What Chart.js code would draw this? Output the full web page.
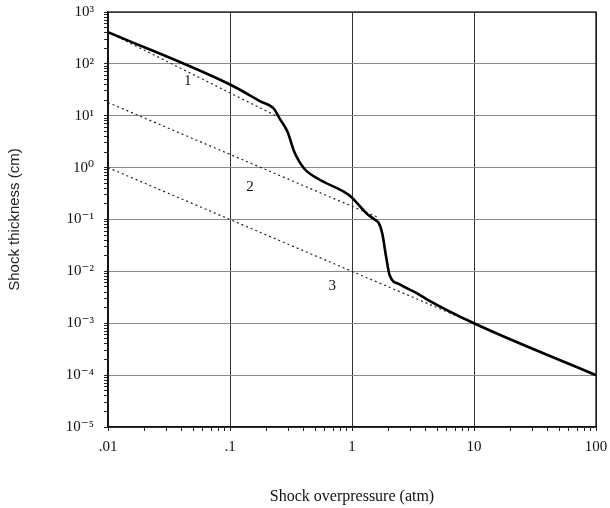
<!DOCTYPE html>
<html>
<head>
<meta charset="utf-8">
<script src="https://cdn.jsdelivr.net/npm/chart.js@4.4.0/dist/chart.umd.min.js"></script>
<style>
  html, body { margin: 0; padding: 0; background: #fff; }
  #wrap { width: 610px; height: 508px; }
</style>
</head>
<body>
<div id="wrap"><canvas id="c" width="610" height="508"></canvas></div>
<script>
// ---- data ----
const mainX = [0.01, 0.1, 0.177, 0.23, 0.254, 0.296, 0.337, 0.407, 0.54, 0.955, 1.32, 1.53, 1.66, 1.77, 1.9, 2.04, 2.46, 3.39, 4.1, 10, 100];
const mainY = [410, 40, 19, 13.5, 9, 4.9, 2.0, 0.95, 0.59, 0.29, 0.13, 0.1, 0.085, 0.054, 0.0195, 0.0083, 0.0056, 0.0038, 0.0029, 0.001, 0.0001];

const line1X = [0.01, 0.26];
const line1Y = [410, 9];
const line2X = [0.01, 1.65];
const line2Y = [18, 0.109];
const line3X = [0.01, 10];
const line3Y = [1, 0.001];

const curveNames = ['1', '2', '3'];
const curveNameX = [0.045, 0.146, 0.69];
const curveNameY = [47, 0.43, 0.0051];

const xTickLabels = {0.01: '.01', 0.1: '.1', 1: '1', 10: '10', 100: '100'};
const supDigits = {'-': '\u207B', '0': '\u2070', '1': '\u00B9', '2': '\u00B2', '3': '\u00B3', '4': '\u2074', '5': '\u2075', '6': '\u2076', '7': '\u2077', '8': '\u2078', '9': '\u2079'};

const xTitle = 'Shock overpressure (atm)';
const yTitle = 'Shock thickness (cm)';

// ---- helpers ----
const pts = (xs, ys) => xs.map((x, i) => ({x: x, y: ys[i]}));
const isMajor = v => Math.abs(Math.log10(v) - Math.round(Math.log10(v))) < 1e-9;
const logTicks = (lo, hi) => {
  const t = [];
  for (let e = lo; e <= hi; e++) {
    for (let m = 1; m <= 9; m++) {
      const v = m * Math.pow(10, e);
      if (e === hi && m > 1) break;
      t.push({value: parseFloat(v.toPrecision(6))});
    }
  }
  return t;
};
const serif = "'Liberation Serif', 'DejaVu Serif', serif";
const sans = "'Liberation Sans', Arial, sans-serif";

const framePlugin = {
  id: 'frame',
  afterDraw(chart) {
    const a = chart.chartArea, ctx = chart.ctx;
    ctx.save();
    ctx.strokeStyle = '#111';
    ctx.lineWidth = 1.3;
    ctx.strokeRect(a.left, a.top, a.right - a.left, a.bottom - a.top);
    ctx.restore();
  }
};

const curveLabelPlugin = {
  id: 'curveLabels',
  afterDatasetsDraw(chart) {
    const ctx = chart.ctx, sx = chart.scales.x, sy = chart.scales.y;
    ctx.save();
    ctx.fillStyle = '#111';
    ctx.font = "15px " + serif;
    ctx.textAlign = 'center';
    ctx.textBaseline = 'middle';
    curveNames.forEach((n, i) => {
      ctx.fillText(n, sx.getPixelForValue(curveNameX[i]), sy.getPixelForValue(curveNameY[i]));
    });
    ctx.restore();
  }
};

const dotted = (data) => ({
  data: data,
  borderColor: '#222',
  borderWidth: 1.2,
  borderDash: [2, 3],
  pointRadius: 0,
  fill: false,
  tension: 0
});

new Chart(document.getElementById('c'), {
  type: 'line',
  data: {
    datasets: [
      {
        data: pts(mainX, mainY),
        borderColor: '#000',
        borderWidth: 2.6,
        pointRadius: 0,
        fill: false,
        cubicInterpolationMode: 'monotone'
      },
      dotted(pts(line1X, line1Y)),
      dotted(pts(line2X, line2Y)),
      dotted(pts(line3X, line3Y))
    ]
  },
  options: {
    responsive: false,
    animation: false,
    layout: {padding: {left: 0, top: 12, right: 14, bottom: 0}},
    plugins: {legend: {display: false}, tooltip: {enabled: false}},
    scales: {
      x: {
        type: 'logarithmic',
        min: 0.01, max: 100,
        afterBuildTicks: s => { s.ticks = logTicks(-2, 2); },
        afterFit: s => { s.height = 81; s.paddingLeft = 0; s.paddingRight = 0; },
        border: {display: true, color: '#111', width: 1.3},
        grid: {
          color: c => (c.tick && isMajor(c.tick.value)) ? '#333' : 'rgba(0,0,0,0)',
          lineWidth: 1,
          tickColor: '#222',
          tickLength: 4,
          drawOnChartArea: true
        },
        ticks: {
          autoSkip: false, maxRotation: 0, padding: 7,
          color: '#111',
          font: {family: serif, size: 15},
          callback: v => isMajor(v) ? (xTickLabels[v] !== undefined ? xTickLabels[v] : '') : ''
        },
        title: {display: true, text: xTitle, color: '#111', font: {family: serif, size: 16}, padding: {top: 2, bottom: 2}}
      },
      y: {
        type: 'logarithmic',
        min: 1e-5, max: 1e3,
        afterBuildTicks: s => { s.ticks = logTicks(-5, 3); },
        afterFit: s => { s.width = 108; s.paddingTop = 0; s.paddingBottom = 0; },
        border: {display: true, color: '#111', width: 1.3},
        grid: {
          color: c => (c.tick && isMajor(c.tick.value)) ? '#888' : 'rgba(0,0,0,0)',
          lineWidth: 1,
          tickColor: '#222',
          tickLength: 4
        },
        ticks: {
          autoSkip: false, padding: 10,
          color: '#111',
          font: {family: serif, size: 15},
          callback: v => {
            if (!isMajor(v)) return '';
            const e = String(Math.round(Math.log10(v)));
            return '10' + e.split('').map(ch => supDigits[ch]).join('');
          }
        },
        title: {display: true, text: yTitle, color: '#222', font: {family: sans, size: 15}, padding: {top: 6, bottom: 0}}
      }
    }
  },
  plugins: [framePlugin, curveLabelPlugin]
});
</script>
</body>
</html>
